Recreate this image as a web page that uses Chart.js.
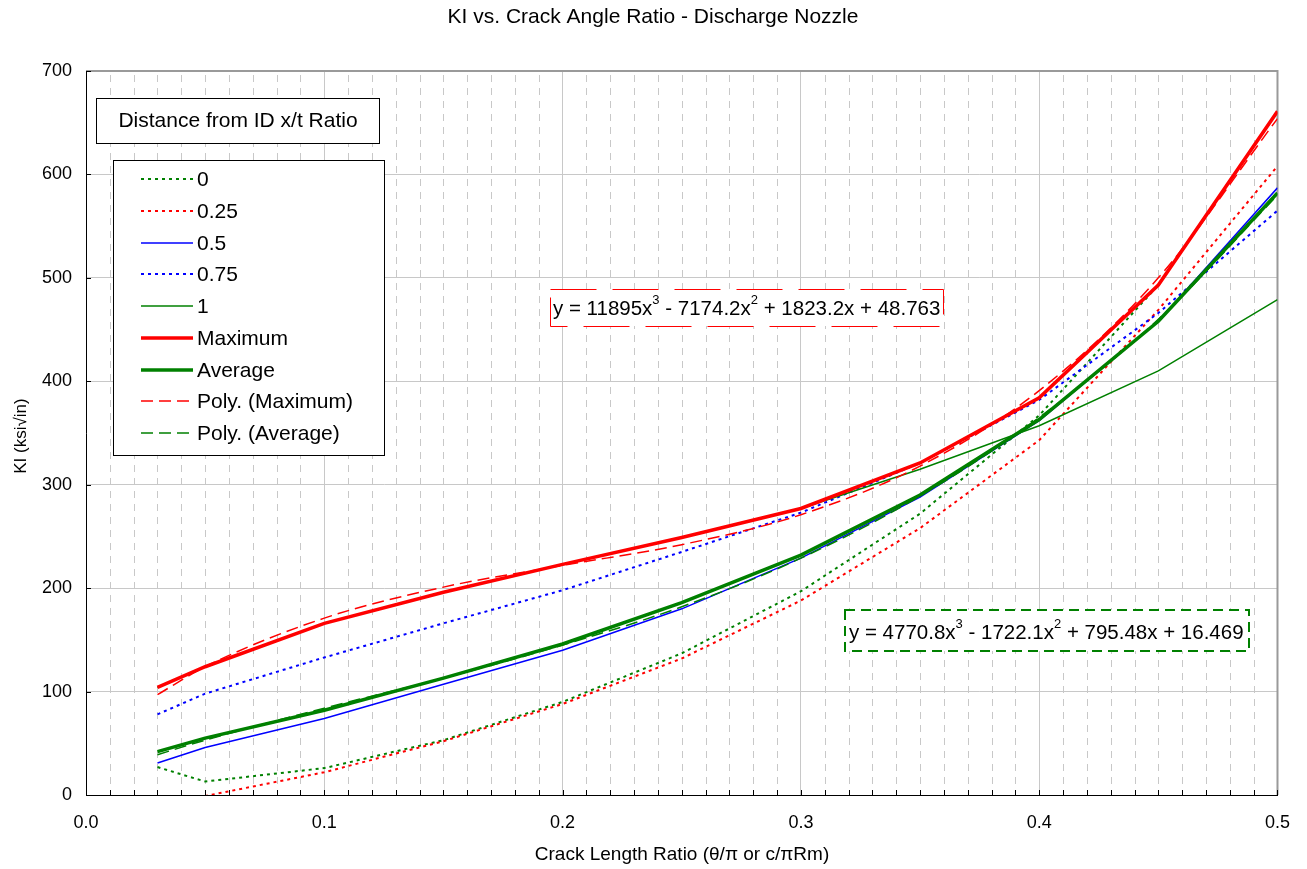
<!DOCTYPE html>
<html>
<head>
<meta charset="utf-8">
<script src="https://cdn.jsdelivr.net/npm/chart.js@4.4.1/dist/chart.umd.min.js"></script>
<style>
  html, body { margin: 0; padding: 0; background: #fff; }
  #wrap { width: 1307px; height: 869px; }
</style>
</head>
<body>
<div id="wrap"><canvas id="kiChart" width="1307" height="869"></canvas></div>
<script>
// crack length ratio (x) and KI values
const xVals = [0.03, 0.05, 0.1, 0.15, 0.2, 0.25, 0.3, 0.35, 0.4, 0.45, 0.5];
const ki0 = [27, 13, 26, 53, 90, 137, 197, 272, 367, 493, 661];
const ki025 = [-30, -1, 22, 52, 88, 132, 188, 258, 343, 469, 608];
const ki05 = [31, 46, 74, 107, 140, 180, 229, 288, 362, 458, 587];
const ki075 = [78, 98, 133, 166, 198, 235, 273, 321, 382, 466, 565];
const ki1 = [104, 124, 166, 196, 223, 249, 277, 315, 357, 410, 479];
const kiMax = [104, 124, 166, 196, 223, 249, 277, 321, 384, 493, 661];
const kiAvg = [42, 55, 82, 113, 146, 186, 232, 290, 363, 458, 582];
// trendlines as drawn
const polyMax = [97, 124, 171, 201, 222, 242, 271, 318, 391, 500, 654];
const polyAvg = [39, 53, 84, 113, 145, 182, 229, 289, 365, 460, 580];

const seriesNames = ['0', '0.25', '0.5', '0.75', '1', 'Maximum', 'Average', 'Poly. (Maximum)', 'Poly. (Average)'];
const xTicks = [0, 0.1, 0.2, 0.3, 0.4, 0.5];
const yTicks = [0, 100, 200, 300, 400, 500, 600, 700];

const RED = '#ff0000', GREEN = '#008000', BLUE = '#0000ff';
const FONT = '"Liberation Sans", Arial, sans-serif';

const pts = (ys) => ys.map((y, i) => ({ x: xVals[i], y: y }));

function mkSet(i, data, color, width, dash, smooth) {
    return {
        label: seriesNames[i],
        data: pts(data),
        borderColor: color,
        backgroundColor: color,
        borderWidth: width,
        borderDash: dash,
        pointRadius: 0,
        fill: false,
        tension: 0,
        cubicInterpolationMode: smooth ? 'monotone' : 'default',
        order: 20 - i   // later series drawn on top, like excel
    };
}

const datasets = [
    mkSet(0, ki0, GREEN, 2, [3, 4]),
    mkSet(1, ki025, RED, 2, [3, 4]),
    mkSet(2, ki05, BLUE, 1.5, []),
    mkSet(3, ki075, BLUE, 2, [3, 4]),
    mkSet(4, ki1, GREEN, 1.5, []),
    mkSet(5, kiMax, RED, 3.5, []),
    mkSet(6, kiAvg, GREEN, 3.5, []),
    mkSet(7, polyMax, RED, 1.5, [12, 6], true),
    mkSet(8, polyAvg, GREEN, 1.5, [12, 6], true)
];

function drawEq(ctx, parts, x, y) {
    // parts: [text, isSuperscript]
    let cx = x;
    parts.forEach(([t, sup]) => {
        ctx.font = (sup ? '13px ' : '20.5px ') + FONT;
        ctx.fillText(t, cx, sup ? y - 9 : y);
        cx += ctx.measureText(t).width;
    });
}

const overlay = {
    id: 'overlay',
    beforeDatasetsDraw(chart) {
        const ctx = chart.ctx;
        const a = chart.chartArea;
        const xs = chart.scales.x;
        ctx.save();
        // minor dashed vertical grid every 0.01
        ctx.strokeStyle = '#c8c8c8';
        ctx.lineWidth = 1;
        ctx.setLineDash([7, 6]);
        for (let k = 1; k < 50; k++) {
            if (k % 10 === 0) continue;
            const px = Math.round(xs.getPixelForValue(k / 100)) + 0.5;
            ctx.beginPath();
            ctx.moveTo(px, a.top + 4);
            ctx.lineTo(px, a.bottom);
            ctx.stroke();
        }
        ctx.setLineDash([]);
        // plot border top/right
        ctx.strokeStyle = '#9a9a9a';
        ctx.lineWidth = 2;
        ctx.beginPath();
        ctx.moveTo(a.left, a.top);
        ctx.lineTo(a.right, a.top);
        ctx.lineTo(a.right, a.bottom);
        ctx.stroke();
        ctx.restore();
    },
    afterDraw(chart) {
        const ctx = chart.ctx;
        const a = chart.chartArea;
        const xs = chart.scales.x, ys = chart.scales.y;
        ctx.save();
        // x minor ticks (inward)
        ctx.strokeStyle = '#000';
        ctx.lineWidth = 1;
        for (let k = 1; k <= 50; k++) {
            const px = Math.round(xs.getPixelForValue(k / 100)) + 0.5;
            ctx.beginPath();
            ctx.moveTo(px, a.bottom);
            ctx.lineTo(px, a.bottom - 5);
            ctx.stroke();
        }
        // y ticks (inward)
        yTicks.forEach(v => {
            const py = Math.round(ys.getPixelForValue(v)) + 0.5;
            ctx.beginPath();
            ctx.moveTo(a.left, py);
            ctx.lineTo(a.left + 5, py);
            ctx.stroke();
        });

        ctx.fillStyle = '#000';
        ctx.textBaseline = 'middle';
        ctx.textAlign = 'center';
        ctx.font = '21px ' + FONT;
        ctx.fillText('KI vs. Crack Angle Ratio - Discharge Nozzle', 653, 17);
        ctx.font = '19px ' + FONT;
        ctx.fillText('Crack Length Ratio (\u03b8/\u03c0 or c/\u03c0Rm)', 682, 855);
        ctx.save();
        ctx.translate(21, 436);
        ctx.rotate(-Math.PI / 2);
        ctx.font = '17px ' + FONT;
        ctx.fillText('KI (ksi\u221ain)', 0, 0);
        ctx.restore();

        // legend title box
        ctx.fillStyle = '#fff';
        ctx.fillRect(96, 98, 283, 45);
        ctx.strokeStyle = '#000';
        ctx.lineWidth = 1;
        ctx.strokeRect(96.5, 98.5, 283, 45);
        ctx.fillStyle = '#000';
        ctx.font = '21px ' + FONT;
        ctx.fillText('Distance from ID x/t Ratio', 238, 121);

        // legend box
        ctx.fillStyle = '#fff';
        ctx.fillRect(113, 160, 271, 295);
        ctx.strokeRect(113.5, 160.5, 271, 295);
        ctx.textAlign = 'left';
        chart.data.datasets.forEach((ds, i) => {
            const y = Math.round(179 + i * 31.75);
            ctx.strokeStyle = ds.borderColor;
            ctx.lineWidth = ds.borderWidth;
            ctx.setLineDash(ds.borderDash || []);
            ctx.beginPath();
            ctx.moveTo(141, y);
            ctx.lineTo(193, y);
            ctx.stroke();
            ctx.setLineDash([]);
            ctx.fillStyle = '#000';
            ctx.font = '21px ' + FONT;
            ctx.fillText(ds.label, 197, y + 1);
        });

        // trendline equation boxes
        ctx.fillStyle = '#fff';
        ctx.fillRect(550, 289, 393, 37);
        ctx.strokeStyle = RED;
        ctx.lineWidth = 1;
        ctx.setLineDash([46, 16]);
        ctx.strokeRect(550.5, 289.5, 393, 37);
        ctx.fillStyle = '#000';
        drawEq(ctx, [['y = 11895x', false], ['3', true], [' - 7174.2x', false], ['2', true], [' + 1823.2x + 48.763', false]], 553, 309);

        ctx.fillStyle = '#fff';
        ctx.fillRect(845, 610, 404, 41);
        ctx.strokeStyle = GREEN;
        ctx.lineWidth = 2;
        ctx.setLineDash([10, 6]);
        ctx.strokeRect(845, 610, 404, 41);
        ctx.setLineDash([]);
        ctx.fillStyle = '#000';
        drawEq(ctx, [['y = 4770.8x', false], ['3', true], [' - 1722.1x', false], ['2', true], [' + 795.48x + 16.469', false]], 849, 633);
        ctx.restore();
    }
};

new Chart(document.getElementById('kiChart').getContext('2d'), {
    type: 'line',
    data: { datasets: datasets },
    options: {
        responsive: false,
        animation: false,
        devicePixelRatio: 1,
        layout: { padding: { left: 0, top: 71, right: 29, bottom: 0 } },
        plugins: {
            legend: { display: false },
            title: { display: false },
            tooltip: { enabled: false }
        },
        scales: {
            x: {
                type: 'linear',
                min: 0,
                max: 0.5,
                afterBuildTicks: (s) => { s.ticks = xTicks.map(v => ({ value: v })); },
                afterFit: (s) => { s.height = 74; },
                ticks: {
                    color: '#000',
                    font: { size: 18, family: FONT },
                    padding: 17,
                    maxRotation: 0,
                    callback: (v) => Number(v).toFixed(1)
                },
                grid: { color: '#c8c8c8', drawTicks: false },
                border: { color: '#000', width: 1 }
            },
            y: {
                min: 0,
                max: 700,
                afterBuildTicks: (s) => { s.ticks = yTicks.map(v => ({ value: v })); },
                afterFit: (s) => { s.width = 86; },
                ticks: {
                    color: '#000',
                    font: { size: 18, family: FONT },
                    padding: 14
                },
                grid: { color: '#c8c8c8', drawTicks: false },
                border: { color: '#000', width: 1 }
            }
        }
    },
    plugins: [overlay]
});
</script>
</body>
</html>
